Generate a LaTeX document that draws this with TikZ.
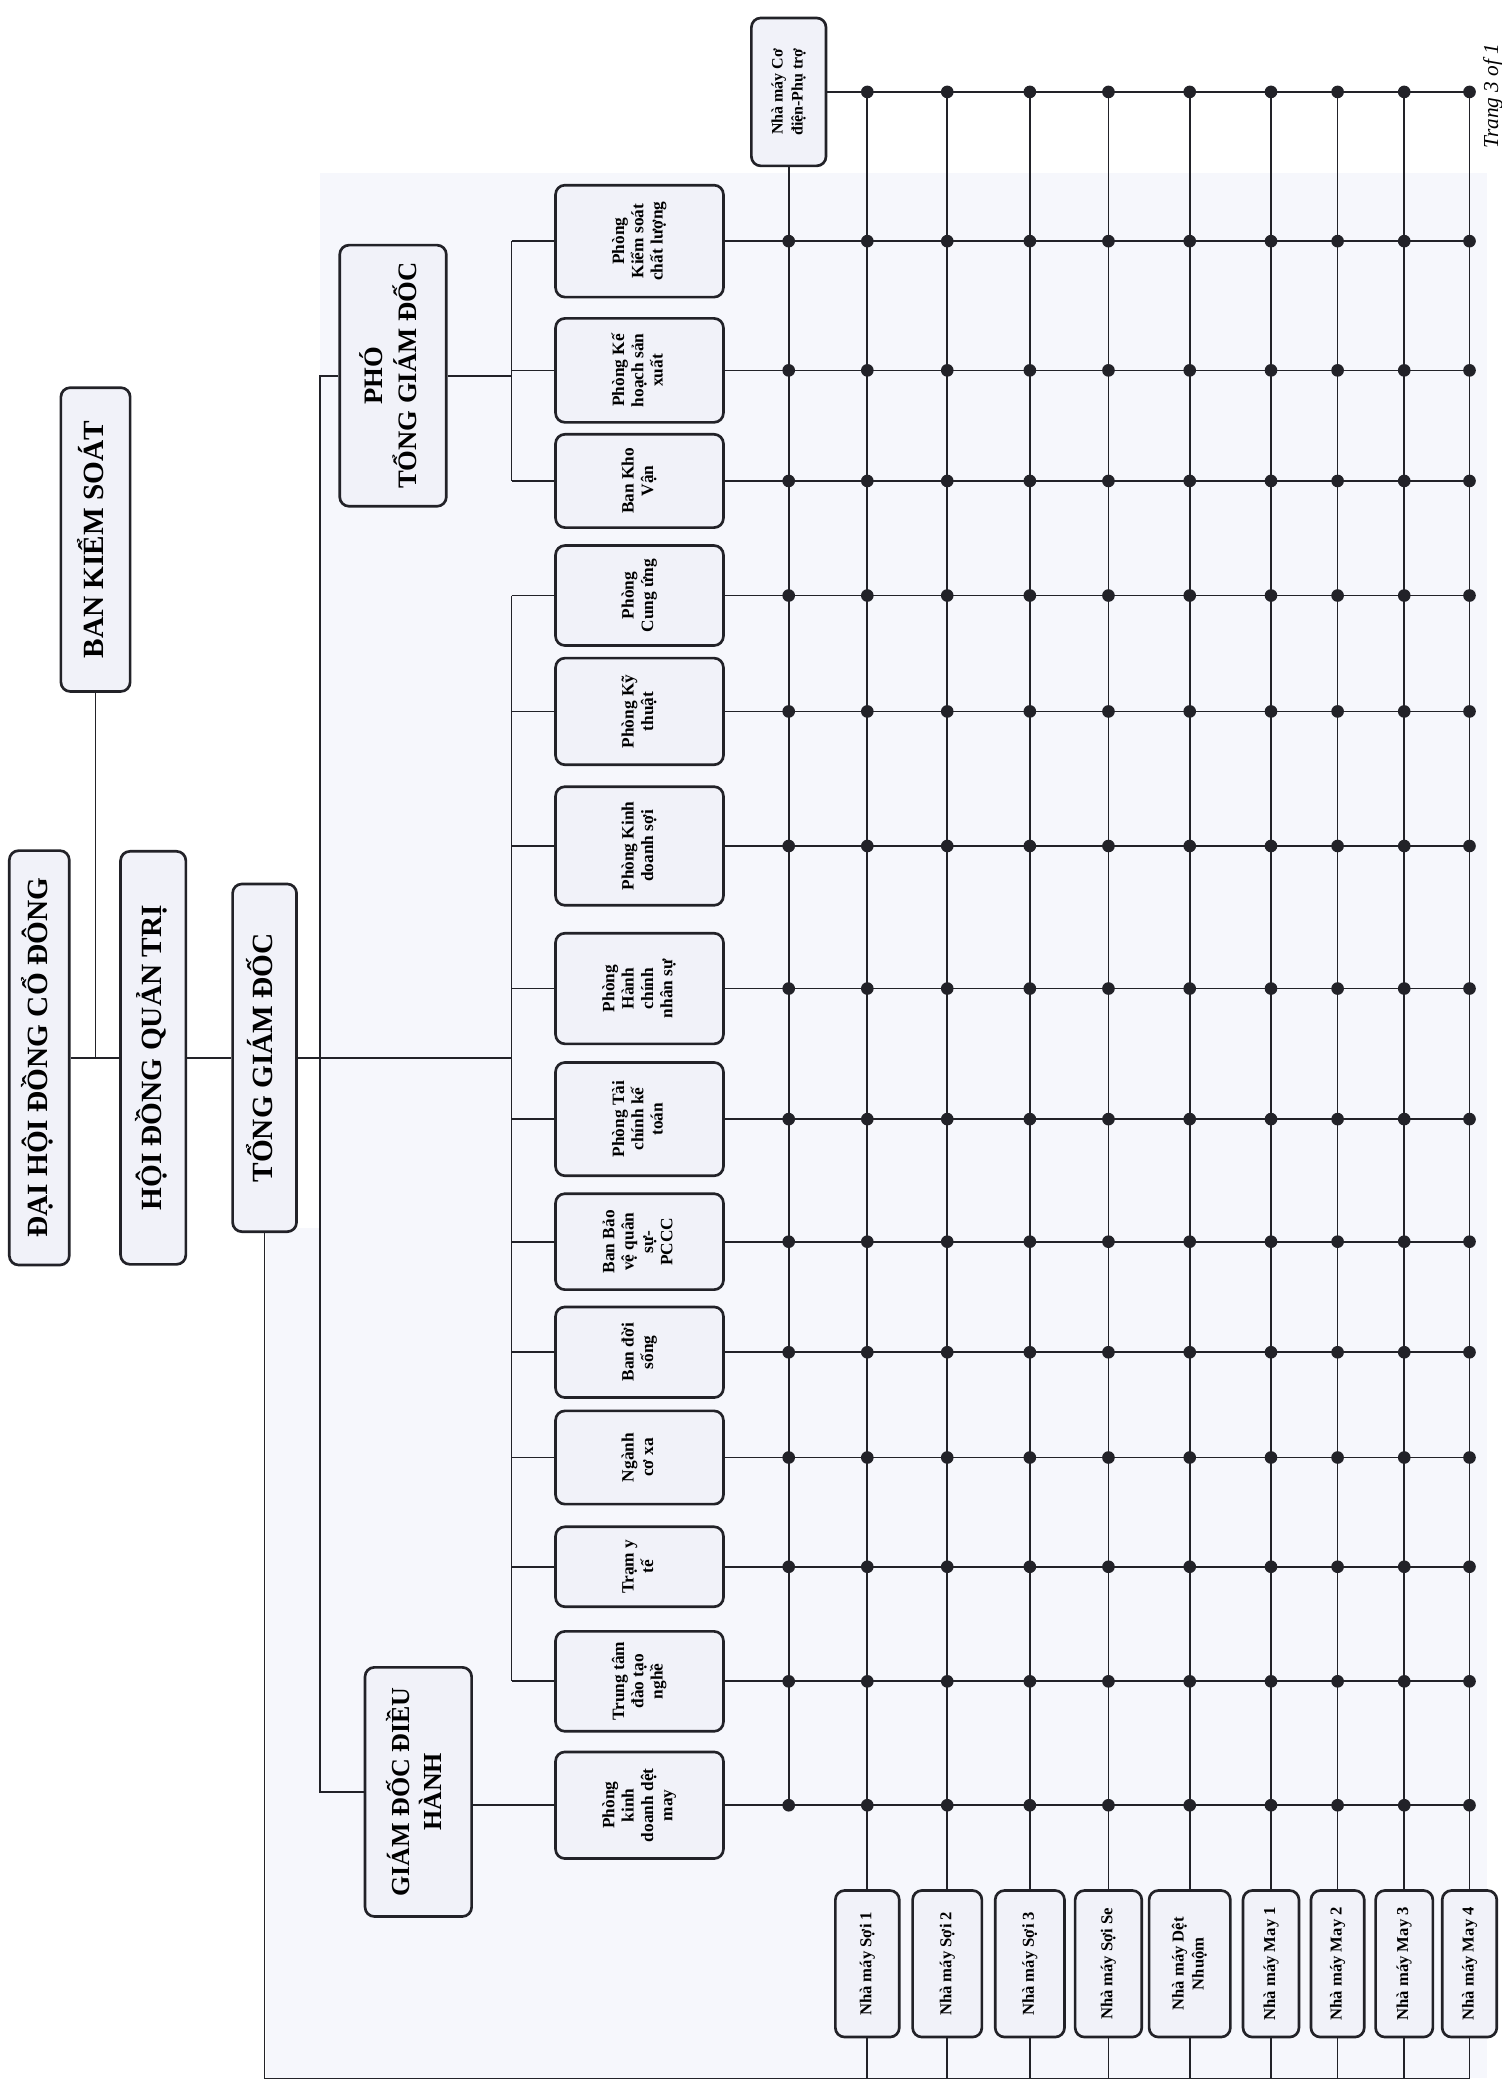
\documentclass[tikz,border=0pt]{standalone}
\usepackage{fontspec}
\setmainfont{Liberation Serif}
\usetikzlibrary{calc}
\definecolor{tint}{RGB}{246,247,252}
\definecolor{boxfill}{RGB}{241,242,249}
\definecolor{ink}{RGB}{34,34,40}
\newcommand{\vtext}[1]{\rotatebox{90}{\begin{tabular}{@{}c@{}}#1\end{tabular}}}
\begin{document}
\begin{tikzpicture}[x=1pt,y=-1pt,
  box/.style={draw=ink, line width=2pt, rounded corners=7pt, fill=boxfill, inner sep=0pt, align=center},
  conn/.style={draw=ink, line width=1.3pt},
  dot/.style={circle, fill=ink, inner sep=0pt, minimum size=9.5pt},
  big/.style={font=\fontsize{22}{26}\selectfont\bfseries},
  mid/.style={font=\fontsize{19.5}{22}\selectfont\bfseries},
  dept/.style={font=\fontsize{13}{14.5}\selectfont\bfseries},
  fact/.style={font=\fontsize{12.5}{15}\selectfont\bfseries}]
\useasboundingbox (0,0) rectangle (1127.3,1568);
\fill[white] (0,0) rectangle (1127.3,1568);
\fill[tint] (240,130) rectangle (1116,1560);
\fill[tint] (200,922) rectangle (240,1560);

% top management
\node[box, big, minimum width=45pt, minimum height=311pt] (dh) at (29.5,794) {\vtext{ĐẠI HỘI ĐỒNG CỔ ĐÔNG}};
\node[box, big, minimum width=52pt, minimum height=228pt] (bks) at (71.7,405) {\vtext{BAN KIỂM SOÁT}};
\node[box, big, minimum width=49pt, minimum height=310pt] (hq) at (115,794) {\vtext{HỘI ĐỒNG QUẢN TRỊ}};
\node[box, big, minimum width=48pt, minimum height=261pt] (tgd) at (198.6,794) {\vtext{TỔNG GIÁM ĐỐC}};
\node[box, font=\fontsize{20}{25}\selectfont\bfseries, minimum width=80pt, minimum height=196pt] (pho) at (295,282) {\vtext{PHÓ\\TỔNG GIÁM ĐỐC}};
\node[box, mid, minimum width=80pt, minimum height=187pt] (gd) at (314,1345) {\vtext{GIÁM ĐỐC ĐIỀU\\HÀNH}};

% departments
\foreach \nm/\yy/\hh/\txt in {
  d1/181/84/{Phòng\\Kiểm soát\\chất lượng},
  d2/278/78/{Phòng Kế\\hoạch sản\\xuất},
  d3/361/70/{Ban Kho\\Vận},
  d4/447/75/{Phòng\\Cung ứng},
  d5/534/80/{Phòng Kỹ\\thuật},
  d6/635/89/{Phòng Kinh\\doanh sợi},
  d7/742/83/{Phòng\\Hành\\chính\\nhân sự},
  d8/840/85/{Phòng Tài\\chính kế\\toán},
  d9/932/72/{Ban Bảo\\vệ quân\\sự-\\PCCC},
  d10/1015/68/{Ban đời\\sống},
  d11/1094/70/{Ngành\\cơ xa},
  d12/1176/60/{Trạm y\\tế},
  d13/1262/75/{Trung tâm\\đào tạo\\nghề},
  d14/1355/80/{Phòng\\kinh\\doanh dệt\\may}}
  \node[box, dept, minimum width=126pt, minimum height=\hh pt] (\nm) at (480,\yy) {\vtext{\txt}};

% factories
\node[box, font=\fontsize{12}{15}\selectfont\bfseries, minimum width=56pt, minimum height=111pt] (ce) at (592,69) {\vtext{Nhà máy Cơ\\điện-Phụ trợ}};
\foreach \nm/\xx/\ww/\txt in {
  f1/651/48/{Nhà máy Sợi 1},
  f2/711/52/{Nhà máy Sợi 2},
  f3/773/52/{Nhà máy Sợi 3},
  f4/832/50/{Nhà máy Sợi Se},
  f5/893/61/{Nhà máy Dệt\\Nhuộm},
  f6/954/42/{Nhà máy May 1},
  f7/1004/40/{Nhà máy May 2},
  f8/1054/43/{Nhà máy May 3},
  f9/1103/41/{Nhà máy May 4}}
  \node[box, fact, minimum width=\ww pt, minimum height=110pt] (\nm) at (\xx,1474) {\vtext{\txt}};

% helper coordinates
\coordinate (busx) at (384,0);
\coordinate (vx) at (240,0);
\coordinate (bl) at (198.6,1560);

% top connectors
\draw[conn] (dh.east) -- (hq.west);
\draw[conn] (bks.south) -- (bks.south |- dh.east);
\draw[conn] (hq.east) -- (tgd.west);
\draw[conn] (tgd.east) -- (tgd.east -| busx);
\draw[conn] (pho.west) -- (pho.west -| vx) -- (gd.west -| vx) -- (gd.west);
\draw[conn] (tgd.south) -- (bl) -- (bl -| f9.south);

% deputy bus
\draw[conn] (pho.east) -- (pho.east -| busx);
\draw[conn] (d1.west -| busx) -- (d3.west -| busx);
\foreach \i in {1,2,3} \draw[conn] (d\i.west -| busx) -- (d\i.west);
% general director bus
\draw[conn] (d4.west -| busx) -- (d13.west -| busx);
\foreach \i in {4,...,13} \draw[conn] (d\i.west -| busx) -- (d\i.west);
% executive director
\draw[conn] (d14.west) -- (d14.west -| gd.east);

% grid
\draw[conn] (ce.east) -- (ce.east -| f9.north);
\foreach \i in {1,...,14} \draw[conn] (d\i.east) -- (d\i.east -| f9.north);
\draw[conn] (ce.south) -- (ce.south |- d14.east);
\foreach \j in {1,...,9} {
  \draw[conn] (f\j.north |- ce.east) -- (f\j.north);
  \draw[conn] (f\j.south) -- (f\j.south |- bl);
}
\foreach \j in {1,...,9} \node[dot] (p0-\j) at (f\j.north |- ce.east) {};
\foreach \i in {1,...,14} {
  \node[dot] (p\i-0) at (d\i.east -| ce.south) {};
  \foreach \j in {1,...,9} \node[dot] (p\i-\j) at (d\i.east -| f\j.north) {};
}

% page label
\node[anchor=east, inner sep=0pt] (pg) at (1128,72) {\rotatebox{90}{\fontsize{16}{16}\selectfont\itshape Trang 3 of 1}};
\end{tikzpicture}
\end{document}
